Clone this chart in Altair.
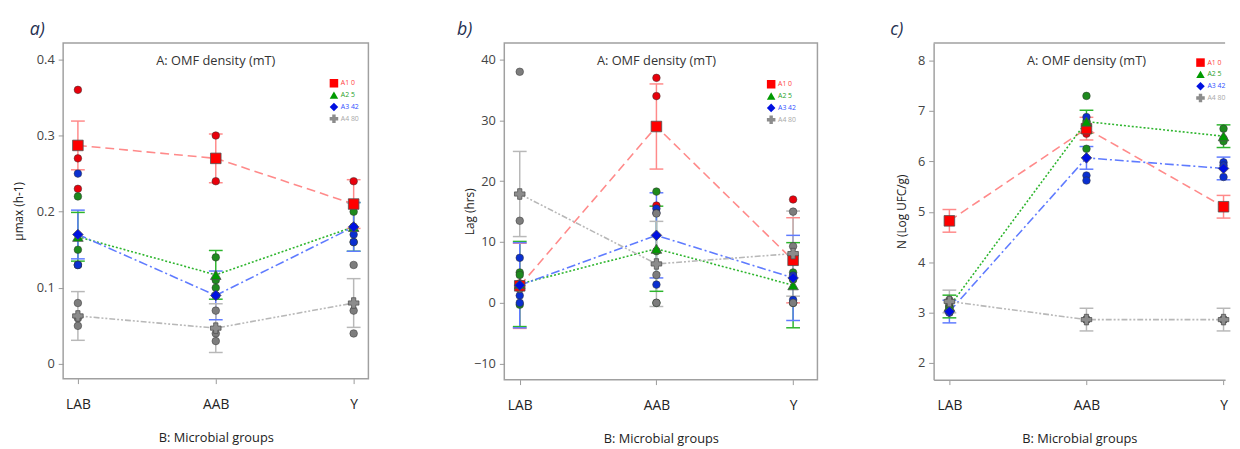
import altair as alt
import pandas as pd

GROUPS = ["LAB", "AAB", "Y"]
SERIES = ["A1 0", "A2 5", "A3 42", "A4 80"]

# ---- panel a: umax (h-1) -- replicate observations per group (LAB, AAB, Y)
MU_OBS = {
    "A1 0": [[0.36, 0.27, 0.23], [0.30, 0.27, 0.24], [0.24, 0.21, 0.18]],
    "A2 5": [[0.22, 0.15, 0.13], [0.14, 0.11, 0.10], [0.20, 0.18, 0.16]],
    "A3 42": [[0.25, 0.13, 0.13], [0.09, 0.09, 0.09], [0.21, 0.17, 0.16]],
    "A4 80": [[0.08, 0.06, 0.05], [0.07, 0.04, 0.03], [0.13, 0.07, 0.04]],
}
MU_MEAN = {
    "A1 0": [0.287, 0.270, 0.210],
    "A2 5": [0.167, 0.117, 0.180],
    "A3 42": [0.170, 0.090, 0.180],
    "A4 80": [0.063, 0.047, 0.080],
}
MU_LSD = 0.032

# ---- panel b: Lag (hrs)
LAG_OBS = {
    "A1 0": [[3.2, 2.8, 2.5], [37.0, 34.0, 16.0], [17.0, 4.0, 0.0]],
    "A2 5": [[5.0, 4.6, -0.3], [18.3, 8.5, 0.0], [5.0, 3.8, 0.0]],
    "A3 42": [[7.4, 1.2, 0.0], [15.5, 14.8, 3.0], [7.3, 4.5, 0.5]],
    "A4 80": [[38.0, 13.5, 2.3], [14.7, 4.6, 0.0], [15.0, 9.3, 0.0]],
}
LAG_MEAN = {
    "A1 0": [2.8, 29.0, 7.0],
    "A2 5": [3.1, 8.9, 2.9],
    "A3 42": [2.9, 11.1, 4.1],
    "A4 80": [17.9, 6.4, 8.1],
}
LAG_LSD = 7.0

# ---- panel c: N (Log UFC/g)
N_OBS = {
    "A1 0": [[4.82, 4.82, 4.82], [6.75, 6.63, 6.55], [5.10, 5.10, 5.10]],
    "A2 5": [[3.15, 3.12, 3.10], [7.30, 6.80, 6.25], [6.65, 6.45, 6.40]],
    "A3 42": [[3.05, 3.00, 3.00], [6.88, 5.72, 5.62], [5.98, 5.92, 5.69]],
    "A4 80": [[3.25, 3.22, 3.20], [2.86, 2.86, 2.86], [2.86, 2.86, 2.86]],
}
N_MEAN = {
    "A1 0": [4.82, 6.65, 5.10],
    "A2 5": [3.12, 6.79, 6.50],
    "A3 42": [3.02, 6.07, 5.86],
    "A4 80": [3.22, 2.86, 2.86],
}
N_LSD = 0.225

FONT = "Open Sans"
FRAME = "#a0a0a0"
MEAN_FILL = ["#ff0000", "#009a00", "#0010e0", "#8c8c8c"]
DOT_FILL = ["#e8000b", "#1e8a1e", "#0a2fd0", "#7d7d7d"]
LINE_COL = ["#ff8a8a", "#2db52d", "#5f7bff", "#b8b8b8"]
DASHES = [[9, 5], [2, 2], [9, 3, 2, 3], [6, 2, 2, 2, 2, 2]]
SHAPES = ["square", "triangle-up", "diamond", "cross"]
KEYS = [0, 1, 2, 3]
LABEL_EXPR_COL = ("datum.label == 'A1 0' ? '#ff4040' : datum.label == 'A2 5' ? '#1f9f1f' : "
                  "datum.label == 'A3 42' ? '#3050ff' : '#a8a8a8'")


def make_panel(obs, means, lsd, ydom, yticks, yfmt, ytitle, letter, xdom, w, h,
               leg_xy, title_x, letter_x, open_right=False):
    obs_rows = []
    mean_rows = []
    for k, s in enumerate(SERIES):
        for gi in range(3):
            for v in obs[s][gi]:
                obs_rows.append({"series": s, "k": k, "g": gi, "value": v})
            m = means[s][gi]
            mean_rows.append({"series": s, "k": k, "g": gi, "mean": m,
                              "lo": m - lsd, "hi": m + lsd})
    obs_df = pd.DataFrame(obs_rows)
    mean_df = pd.DataFrame(mean_rows)

    xs = alt.Scale(domain=xdom, nice=False, zero=False)
    ys = alt.Scale(domain=ydom, nice=False, zero=False)
    dom = dict(domain=True, domainColor=FRAME, domainWidth=1.5) if open_right else dict(domain=False)
    xaxis = alt.Axis(values=[0, 1, 2],
                     labelExpr="datum.value == 0 ? 'LAB' : datum.value == 1 ? 'AAB' : 'Y'",
                     title="B: Microbial groups", grid=False, tickSize=5,
                     labelPadding=14, titlePadding=21, labelFontSize=14, labelColor="#222",
                     titleFontSize=13, titleColor="#222", titleFontWeight="normal", **dom)
    yaxis = alt.Axis(values=yticks, format=yfmt, title=ytitle, grid=False,
                     tickSize=5, labelPadding=4, labelFontSize=13, labelColor="#444",
                     titleX=title_x, titleY=h / 2, titleAngle=270, titleBaseline="middle",
                     titleAlign="center", titleFontSize=12,
                     titleColor="#222", titleFontWeight="normal", **dom)

    def X():
        return alt.X("g:Q", scale=xs, axis=xaxis)

    def Y(f):
        return alt.Y(f, type="quantitative", scale=ys, axis=yaxis)

    stroke_enc = alt.Stroke("k:N", scale=alt.Scale(domain=KEYS, range=LINE_COL), legend=None)
    leg = alt.Legend(title=None, orient="none", legendX=leg_xy[0], legendY=leg_xy[1],
                     symbolSize=75, labelFontSize=7, labelFont=FONT, rowPadding=0, padding=0,
                     labelOffset=2, symbolStrokeColor="#555", symbolStrokeWidth=0.8,
                     labelColor=alt.ExprRef(LABEL_EXPR_COL))

    base = alt.Chart(mean_df)
    bars = base.mark_rule(strokeWidth=1.5).encode(x=X(), y=Y("lo"), y2="hi:Q", stroke=stroke_enc)
    cap_lo = base.mark_rule(strokeWidth=1.5, xOffset=-7, x2Offset=7).encode(
        x=X(), x2="g:Q", y=Y("lo"), stroke=stroke_enc)
    cap_hi = base.mark_rule(strokeWidth=1.5, xOffset=-7, x2Offset=7).encode(
        x=X(), x2="g:Q", y=Y("hi"), stroke=stroke_enc)
    lines = base.mark_line(strokeWidth=1.6).encode(
        x=X(), y=Y("mean"), stroke=stroke_enc,
        strokeDash=alt.StrokeDash("k:N", scale=alt.Scale(domain=KEYS, range=DASHES), legend=None),
        order="g:Q")
    dots = alt.Chart(obs_df).mark_circle(size=60, opacity=1, stroke="#333", strokeWidth=0.5).encode(
        x=X(), y=Y("value"),
        color=alt.Color("k:N", scale=alt.Scale(domain=KEYS, range=DOT_FILL), legend=None))
    pts = base.mark_point(filled=True, size=115, opacity=1, stroke="#505050", strokeWidth=0.8).encode(
        x=X(), y=Y("mean"),
        fill=alt.Fill("series:N", scale=alt.Scale(domain=SERIES, range=MEAN_FILL), legend=leg),
        shape=alt.Shape("series:N", scale=alt.Scale(domain=SERIES, range=SHAPES), legend=leg))
    ttl = alt.Chart(pd.DataFrame({"t": ["A: OMF density (mT)"]})).mark_text(
        fontSize=13, color="#333", font=FONT, baseline="middle").encode(
        text="t:N", x=alt.X(datum=1, scale=xs, axis=xaxis), y=alt.value(18))
    let = alt.Chart(pd.DataFrame({"t": [letter]})).mark_text(
        fontSize=18, fontStyle="italic", color="#1f3050", font=FONT, align="left",
        baseline="alphabetic").encode(text="t:N", x=alt.value(letter_x), y=alt.value(-8))
    layers = [bars, cap_lo, cap_hi, lines, dots, pts, ttl, let]
    props = dict(width=w, height=h)
    if open_right:
        top = alt.Chart(pd.DataFrame({"t": [0]})).mark_rule(color=FRAME, strokeWidth=1.5).encode(
            x=alt.value(0), x2=alt.value(w), y=alt.value(0))
        layers.append(top)
        props["view"] = alt.ViewBackground(stroke=None)
    return alt.layer(*layers).properties(**props)


pa = make_panel(MU_OBS, MU_MEAN, MU_LSD, [-0.0194, 0.4217], [0, 0.1, 0.2, 0.3, 0.4], ".1~f",
                "\u00b5max (h-1)", "a)", [-0.107, 2.107], 310, 341, (270, 36), -45, -34)
pb = make_panel(LAG_OBS, LAG_MEAN, LAG_LSD, [-12.63, 42.75], [-10, 0, 10, 20, 30, 40], "d",
                "Lag  (hrs)", "b)", [-0.113, 2.178], 318, 342, (266, 37), -35, -48)
pc = make_panel(N_OBS, N_MEAN, N_LSD, [1.668, 8.352], [2, 3, 4, 5, 6, 7, 8], "d",
                "N (Log UFC/g)", "c)", [-0.115, 2.0115], 296, 342, (266, 15), -33, -44,
                open_right=True)

RES = dict(fill="independent", shape="independent", color="independent",
           stroke="independent", strokeDash="independent")

inner = alt.hconcat(pa, pb, spacing=88).resolve_scale(**RES).resolve_legend(
    fill="independent", shape="independent")
chart = alt.hconcat(inner, pc, spacing=73).resolve_scale(**RES).resolve_legend(
    fill="independent", shape="independent").properties(
    padding={"left": 4, "top": 9, "right": 0, "bottom": 0}
).configure_view(stroke=FRAME, strokeWidth=1.5).configure_axis(
    labelFont=FONT, titleFont=FONT, tickColor="#999", tickWidth=1
).configure_text(font=FONT)

chart.save("out.html", embed_options={"renderer": "svg", "actions": False})
